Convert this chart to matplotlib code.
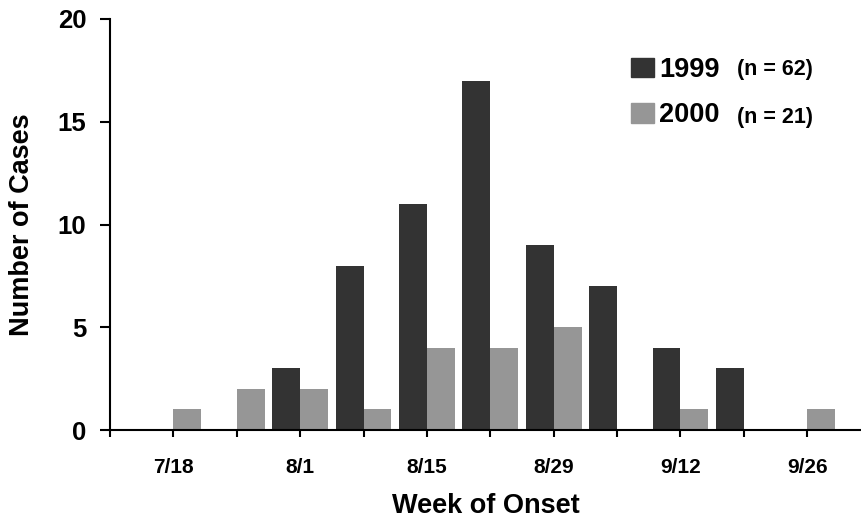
import matplotlib
matplotlib.use("Agg")
import matplotlib.pyplot as plt
from matplotlib.patches import Patch
import numpy as np

# weekly counts, week of onset 7/18 .. 9/26
weeks = ['7/18', '7/25', '8/1', '8/8', '8/15', '8/22', '8/29',
         '9/5', '9/12', '9/19', '9/26']
cases_1999 = [0, 0, 3, 8, 11, 17, 9, 7, 4, 3, 0]
cases_2000 = [1, 2, 2, 1, 4, 4, 5, 0, 1, 0, 1]
n_1999 = 62
n_2000 = 21

plt.rcParams['font.family'] = ['Liberation Sans', 'DejaVu Sans']
plt.rcParams['font.weight'] = 'bold'

fig = plt.figure(figsize=(8.62, 5.22), dpi=100)
ax = fig.add_axes([110/862, 1-430/522, 1-110/862-0.001, (430-19)/522])

x = np.arange(len(weeks))
w = 0.44
ax.bar(x - w/2, cases_1999, width=w, color='#333333', label='1999')
ax.bar(x + w/2, cases_2000, width=w, color='#969696', label='2000')

ax.set_xlim(-1, 10.85)
ax.set_ylim(0, 20)
ax.set_yticks([0, 5, 10, 15, 20])

# ticks every week, labels every other week
ax.set_xticks(np.arange(-1, len(weeks)))
ax.set_xticklabels([''] + [wk if i % 2 == 0 else '' for i, wk in enumerate(weeks)])

for s in ['top', 'right']:
    ax.spines[s].set_visible(False)
for s in ['left', 'bottom']:
    ax.spines[s].set_linewidth(1.5)
    ax.spines[s].set_color('black')

ax.tick_params(axis='y', length=7, width=1.5, pad=10, labelsize=18.5)
ax.tick_params(axis='x', length=5, width=1.5, pad=15, labelsize=15)

ax.set_ylabel('Number of Cases', fontsize=19.5, fontweight='bold', labelpad=16)
ax.set_xlabel('Week of Onset', fontsize=19.5, fontweight='bold', labelpad=12)

handles = [Patch(color='#333333'), Patch(color='#969696')]
ax.legend(handles, ['1999', '2000'], loc='upper left',
          bbox_to_anchor=((632-110)/752, 1 - (57-19)/411),
          frameon=False, prop={'weight': 'bold', 'size': 19.5},
          handlelength=0.82, handleheight=0.72, handletextpad=0.2,
          labelspacing=0.72, borderpad=0, borderaxespad=0)

ax.text((738-110)/752, (430-70)/411, '(n = %d)' % n_1999, transform=ax.transAxes,
        fontsize=15.5, fontweight='bold', va='center', ha='left')
ax.text((738-110)/752, (430-117)/411, '(n = %d)' % n_2000, transform=ax.transAxes,
        fontsize=15.5, fontweight='bold', va='center', ha='left')

fig.savefig('out.png', dpi=100)
